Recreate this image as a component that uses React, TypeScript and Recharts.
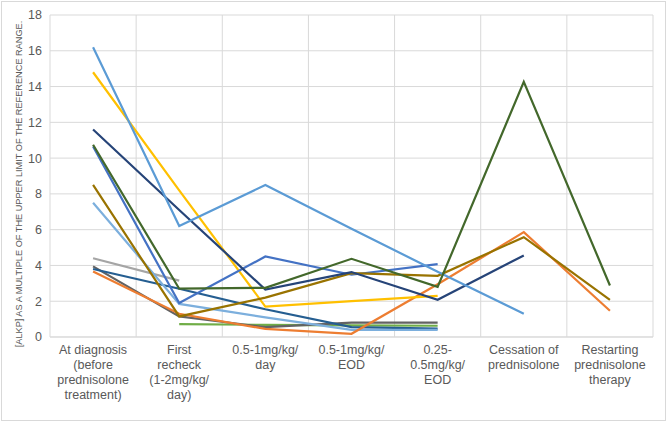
import { LineChart, Line, XAxis, YAxis, CartesianGrid } from "recharts";

// treatment stages (x categories) and their wrapped tick labels
const stages = ["diagnosis", "recheck", "daily", "eod", "lowEod", "cessation", "restart"];
const stageLabels = [
  ["At diagnosis", "(before", "prednisolone", "treatment)"],
  ["First", "recheck", "(1-2mg/kg/", "day)"],
  ["0.5-1mg/kg/", "day"],
  ["0.5-1mg/kg/", "EOD"],
  ["0.25-", "0.5mg/kg/", "EOD"],
  ["Cessation of", "prednisolone"],
  ["Restarting", "prednisolone", "therapy"],
];

const yTicks = [0, 2, 4, 6, 8, 10, 12, 14, 16, 18];

// [ALKP] / upper reference limit, one array per dog
const dog1 = [16.2, 6.2, 8.5, 6.05, 3.65, 1.3, null];
const dog2 = [14.8, 8.2, 1.7, 2.0, 2.3, null, null];
const dog3 = [11.6, 7.1, 2.65, 3.63, 2.08, 4.56, null];
const dog4 = [10.75, 2.7, 2.75, 4.37, 2.8, 14.27, 2.88];
const dog5 = [10.65, 1.9, 4.5, 3.48, 4.07, null, null];
const dog6 = [8.5, 1.15, 2.2, 3.57, 3.42, 5.58, 2.08];
const dog7 = [7.5, 1.85, 1.1, 0.4, 0.4, null, null];
const dog8 = [4.4, 3.15, null, null, null, null, null];
const dog9 = [3.95, 1.15, 0.55, 0.8, 0.8, null, null];
const dog10 = [3.66, 1.3, 0.45, 0.18, 2.95, 5.86, 1.47];
const dog11 = [3.8, 2.7, 1.55, 0.55, 0.47, null, null];
const dog12 = [null, 0.72, 0.68, 0.65, 0.63, null, null];

const series = [
  { key: "dog8", values: dog8, color: "#A5A5A5" },
  { key: "dog12", values: dog12, color: "#70AD47" },
  { key: "dog9", values: dog9, color: "#636363" },
  { key: "dog11", values: dog11, color: "#255E91" },
  { key: "dog7", values: dog7, color: "#7CAFDD" },
  { key: "dog10", values: dog10, color: "#ED7D31" },
  { key: "dog2", values: dog2, color: "#FFC000" },
  { key: "dog5", values: dog5, color: "#4472C4" },
  { key: "dog6", values: dog6, color: "#997300" },
  { key: "dog3", values: dog3, color: "#264478" },
  { key: "dog1", values: dog1, color: "#5B9BD5" },
  { key: "dog4", values: dog4, color: "#43682B" },
];

const data = stages.map((stage, i) => {
  const row: Record<string, any> = { stage };
  series.forEach((s) => {
    row[s.key] = s.values[i];
  });
  return row;
});

const font = "'Liberation Sans', Arial, sans-serif";

const StageTick = (props: any) => {
  const { x, y, payload } = props;
  const lines = stageLabels[payload.index] || [];
  return (
    <text x={x} y={y} textAnchor="middle" fill="#595959" fontSize={12.5} fontFamily={font}>
      {lines.map((line, i) => (
        <tspan key={i} x={x} dy={i === 0 ? "0.71em" : 15}>
          {line}
        </tspan>
      ))}
    </text>
  );
};

const YTitle = () => (
  <text
    x={19}
    y={184}
    transform="rotate(-90 19 184)"
    textAnchor="middle"
    dominantBaseline="central"
    fill="#595959"
    fontSize={9.2}
    fontFamily={font}
  >
    [ALKP] AS A MULTIPLE OF THE UPPER LIMIT OF THE REFERENCE RANGE.
  </text>
);

export default function App() {
  return (
    <div style={{ position: "absolute", left: 0, top: 0, width: 669, height: 422, background: "#fff" }}>
      <div
        style={{
          position: "absolute",
          left: 1,
          top: 1,
          width: 665,
          height: 420,
          border: "1px solid #d9d9d9",
          boxSizing: "border-box",
        }}
      />
      <div style={{ position: "absolute", left: 0, top: 0 }}>
        <LineChart width={669} height={422} data={data} margin={{ top: 15, right: 16, bottom: 0, left: 0 }}>
          <CartesianGrid
            stroke="#d9d9d9"
            verticalCoordinatesGenerator={({ offset }: any) =>
              Array.from({ length: stages.length + 1 }, (_, i) => offset.left + (i * offset.width) / stages.length)
            }
          />
          <XAxis
            dataKey="stage"
            scale="band"
            interval={0}
            height={85}
            tickLine={false}
            axisLine={{ stroke: "#d9d9d9" }}
            tick={<StageTick />}
          />
          <YAxis
            width={50}
            domain={[0, 18]}
            ticks={yTicks}
            axisLine={false}
            tickLine={false}
            tick={{ fill: "#595959", fontSize: 12.5, fontFamily: font }}
            label={{ content: () => <YTitle /> }}
          />
          {series.map((s) => (
            <Line
              key={s.key}
              dataKey={s.key}
              stroke={s.color}
              strokeWidth={2.2}
              dot={false}
              activeDot={false}
              isAnimationActive={false}
            />
          ))}
        </LineChart>
      </div>
    </div>
  );
}
